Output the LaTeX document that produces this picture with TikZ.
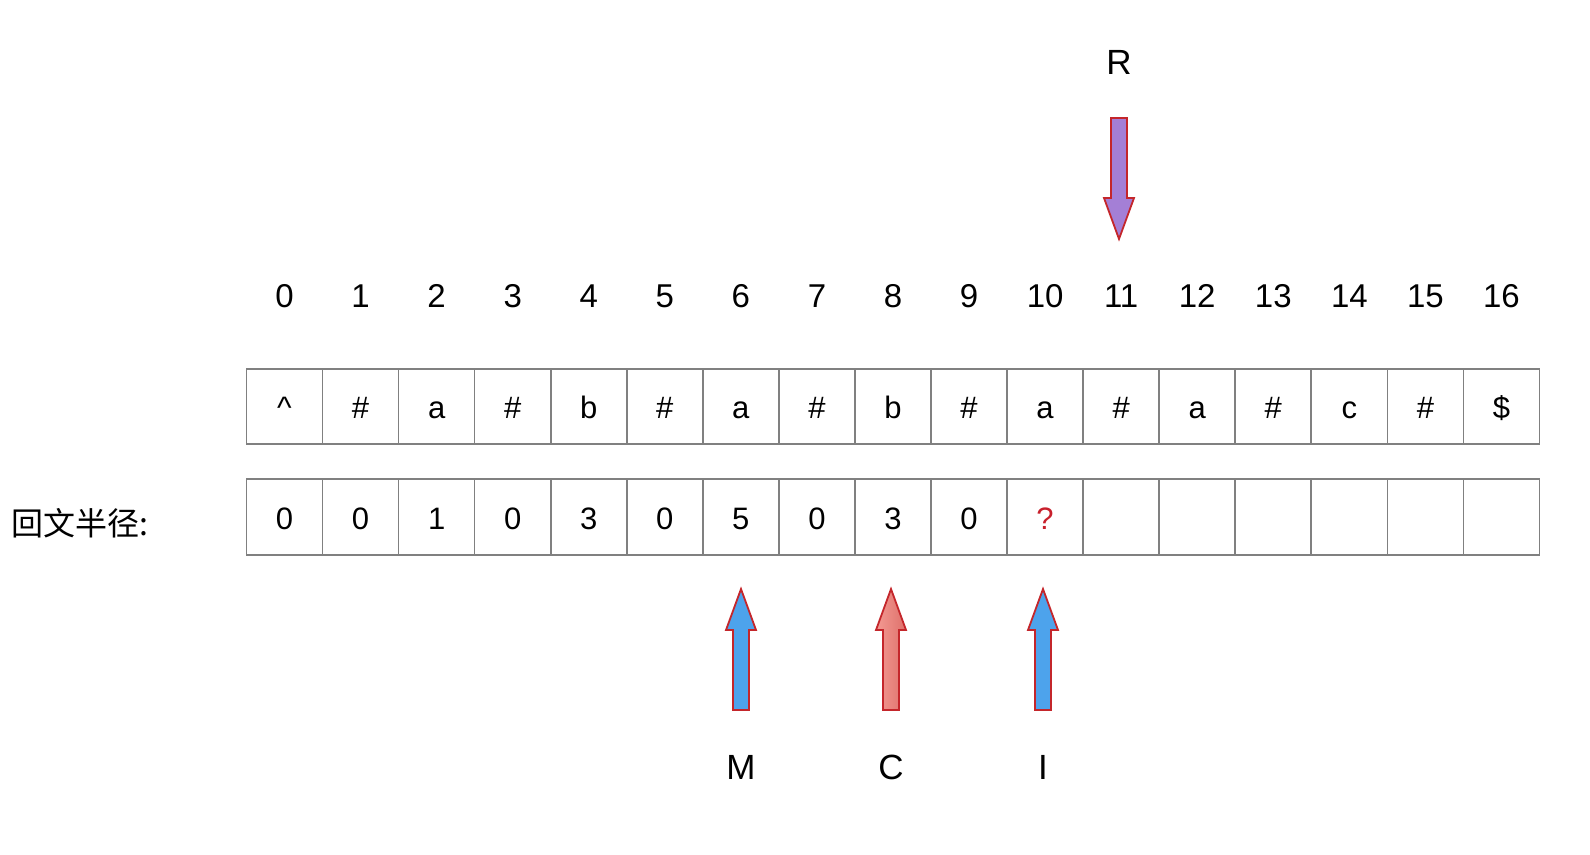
\documentclass[tikz,border=0pt]{standalone}
\usepackage{fontspec}
\setmainfont{Liberation Sans}
\newfontfamily\cjk{Noto Sans CJK SC}
\usetikzlibrary{positioning}
\definecolor{cellgray}{HTML}{808080}
\definecolor{ptrred}{HTML}{C4262B}
\definecolor{ptrblue}{HTML}{4DA3EC}
\definecolor{ptrpinkL}{HTML}{F39A92}
\definecolor{ptrpinkR}{HTML}{DE706B}
\definecolor{ptrpurple}{HTML}{A47FD6}
\definecolor{qred}{HTML}{C8202C}

\begin{document}
\begin{tikzpicture}[x=1pt,y=-1pt, every node/.style={font=\fontsize{31}{36}\selectfont},
 cell/.style={draw=cellgray,line width=1.6pt,minimum width=76pt,minimum height=75pt,inner sep=0pt,text height=25pt,text depth=1pt},
 idx/.style={font=\fontsize{33}{40}\selectfont},
 tag/.style={font=\fontsize{35}{42}\selectfont},
 ptr/.pic={\draw[pic actions] (-8,0)--(-8,-80)--(-15,-80)--(0,-121)--(15,-80)--(8,-80)--(8,0)--cycle;},
 ptrline/.style={draw=ptrred,line width=1.8pt,line join=miter}]
\useasboundingbox (0,0) rectangle (1590,854);
% index, string cell and radius cell per column
\foreach \c/\r [count=\i from 0] in {\textasciicircum/0,\#/0,a/1,\#/0,b/3,\#/0,a/5,\#/0,b/3,\#/0,a/{\textcolor{qred}{?}},\#/{},a/{},\#/{},c/{},\#/{},\$/{}}{
 \node[idx] (n\i) at (284.5+76.06*\i,296) {\i};
 \node[cell] (s\i) at (284.5+76.06*\i,406.5) {\c};
 \node[cell,minimum height=76pt] (p\i) at (284.5+76.06*\i,517) {\r};
}
\node[anchor=west,inner sep=0pt,font=\cjk\fontsize{32}{38}\selectfont] (rad) at (11,523) {回文半径:};
% pointers
\node[tag] (rlab) at (1119,62) {R};
\node[tag] (mlab) at (741,767) {M};
\node[tag] (clab) at (891,767) {C};
\node[tag] (ilab) at (1043,767) {I};
\pic[ptrline,fill=ptrpurple,rotate=180] at (1119,118) {ptr};
\pic[ptrline,fill=ptrblue] at (741,710) {ptr};
\pic[ptrline,left color=ptrpinkL,right color=ptrpinkR] at (891,710) {ptr};
\pic[ptrline,fill=ptrblue] at (1043,710) {ptr};
\end{tikzpicture}
\end{document}
